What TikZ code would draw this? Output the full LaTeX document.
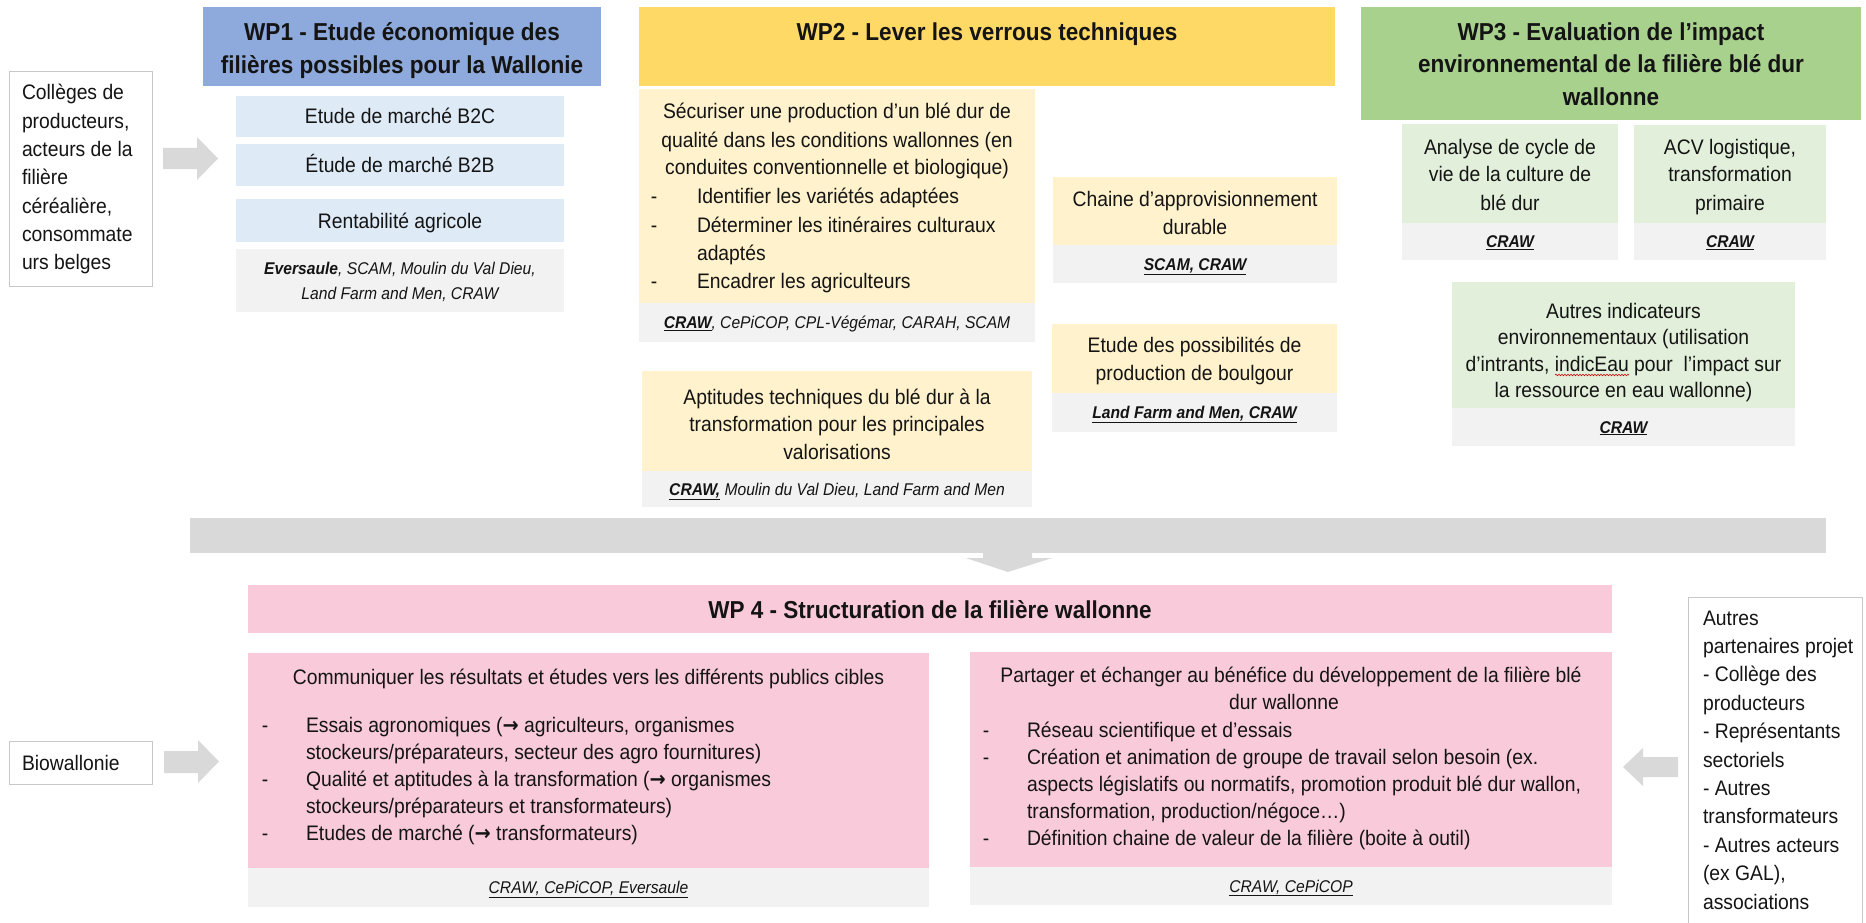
\documentclass[tikz,border=0pt]{standalone}
\usepackage{fontspec}
\setmainfont{Liberation Sans}[FakeStretch=0.92]
\newfontfamily\arrowfont{DejaVu Sans}[FakeStretch=0.92]
\usetikzlibrary{decorations.pathmorphing}
\definecolor{wpblue}{HTML}{8EA9DB}
\definecolor{lblue}{HTML}{DEEBF7}
\definecolor{wpyel}{HTML}{FFD966}
\definecolor{lyel}{HTML}{FFF2CC}
\definecolor{wpgreen}{HTML}{A9D18E}
\definecolor{lgreen}{HTML}{E2EFDA}
\definecolor{wppink}{HTML}{F9CADA}
\definecolor{pgray}{HTML}{F2F2F2}
\definecolor{agray}{HTML}{D9D9D9}
\definecolor{bgray}{HTML}{C8C8C8}
\definecolor{txtcol}{HTML}{141414}
\newcommand\wpbody{\fontsize{21}{28}\selectfont}
\newcommand\wphead{\fontsize{24.5}{33}\selectfont\bfseries}
\newcommand\wppart{\fontsize{17}{25}\selectfont\itshape}
\newcommand\rarr{{\arrowfont\bfseries →}}
% box: name, style, x1, y1, x2, y2
\newcommand\bx[6]{\node[#2, inner sep=0, outer sep=0, minimum width={(#5)-(#3)}, minimum height={(#6)-(#4)}, anchor=north west] (#1) at (#3,#4) {};}
% lines: name, anchor, x, first baseline, step, list
\newcommand\mlines[6]{\foreach \lintext [count=\i] in {#6} {\node[txt, anchor=#2] (#1-\i) at (#3,{#4+(\i-1)*#5}) {\lintext};}}
\tikzset{txt/.style={inner sep=0, outer sep=0, text=txtcol}}
\begin{document}
\begin{tikzpicture}[x=1pt,y=-1pt]
\useasboundingbox (0,0) rectangle (1866,923);
\fill[white] (0,0) rectangle (1866,923);
% ---------- boxes ----------
\bx{colleges}{draw=bgray, fill=white, line width=1pt}{9}{72}{152}{286}
\bx{bio}{draw=bgray, fill=white, line width=1pt}{9}{741}{152}{784}
\bx{autres}{draw=bgray, fill=white, line width=1pt}{1688}{597}{1862}{940}
\bx{wp1h}{fill=wpblue}{203}{7}{601}{86}
\bx{b2c}{fill=lblue}{236}{96}{564}{137}
\bx{b2b}{fill=lblue}{236}{144}{564}{186}
\bx{rent}{fill=lblue}{236}{199}{564}{242}
\bx{p1}{fill=pgray}{236}{249}{564}{312}
\bx{wp2h}{fill=wpyel}{639}{7}{1335}{86}
\bx{w2a}{fill=lyel}{639}{89}{1035}{303}
\bx{p2a}{fill=pgray}{639}{303}{1035}{342}
\bx{w2b}{fill=lyel}{642}{371}{1032}{471}
\bx{p2b}{fill=pgray}{642}{471}{1032}{507}
\bx{w2c}{fill=lyel}{1053}{177}{1337}{245}
\bx{p2c}{fill=pgray}{1053}{245}{1337}{283}
\bx{w2d}{fill=lyel}{1052}{324}{1337}{393}
\bx{p2d}{fill=pgray}{1052}{393}{1337}{432}
\bx{wp3h}{fill=wpgreen}{1361}{7}{1861}{120}
\bx{w3a}{fill=lgreen}{1402}{124}{1618}{223}
\bx{p3a}{fill=pgray}{1402}{223}{1618}{260}
\bx{w3b}{fill=lgreen}{1634}{125}{1826}{223}
\bx{p3b}{fill=pgray}{1634}{223}{1826}{260}
\bx{w3c}{fill=lgreen}{1452}{282}{1795}{408}
\bx{p3c}{fill=pgray}{1452}{408}{1795}{446}
\bx{band}{fill=agray}{190}{518}{1826}{553}
\bx{wp4h}{fill=wppink}{248}{585}{1612}{633}
\bx{w4a}{fill=wppink}{248}{653}{929}{868}
\bx{p4a}{fill=pgray}{248}{868}{929}{907}
\bx{w4b}{fill=wppink}{970}{652}{1612}{867}
\bx{p4b}{fill=pgray}{970}{867}{1612}{905}
% ---------- block arrows ----------
\fill[agray] (163,148) -- (197,148) -- (197,137) -- (218,158.5) -- (197,180) -- (197,169) -- (163,169) -- cycle;
\fill[agray] (164,751) -- (198,751) -- (198,740) -- (219,761.5) -- (198,783) -- (198,773) -- (164,773) -- cycle;
\fill[agray] (1678,757) -- (1643,757) -- (1643,748) -- (1623,767) -- (1643,786) -- (1643,777) -- (1678,777) -- cycle;
\fill[agray] (983,550) -- (1032,550) -- (1032,558) -- (1052,558) -- (1008,572) -- (966,558) -- (983,558) -- cycle;
% ---------- headers ----------
\begin{scope}[font=\wphead]
\mlines{th1}{base}{402}{40.5}{33}{WP1 - Etude économique des, filières possibles pour la Wallonie}
\node[txt, anchor=base] (th2) at (987,40.5) {WP2 - Lever les verrous techniques};
\mlines{th3}{base}{1611}{40.5}{32.5}{WP3 - Evaluation de l’impact, environnemental de la filière blé dur, wallonne}
\node[txt, anchor=base] (th4) at (930,618) {WP 4 - Structuration de la filière wallonne};
\end{scope}
% ---------- body text ----------
\begin{scope}[font=\wpbody]
\mlines{tcol}{base west}{22}{100}{28.3}{Collèges de,{producteurs,},acteurs de la,filière,{céréalière,},consommate,urs belges}
\node[txt, anchor=base west] (tbio) at (22,770) {Biowallonie};
\node[txt, anchor=base] (tb2c) at (400,124) {Etude de marché B2C};
\node[txt, anchor=base] (tb2b) at (400,172) {Étude de marché B2B};
\node[txt, anchor=base] (trent) at (400,228) {Rentabilité agricole};
\mlines{t2a}{base}{837}{119}{28}{Sécuriser une production d’un blé dur de, qualité dans les conditions wallonnes (en, conduites conventionnelle et biologique)}
\mlines{t2ab}{base west}{697}{204}{28.3}{Identifier les variétés adaptées, Déterminer les itinéraires culturaux, adaptés, Encadrer les agriculteurs}
\node[txt, anchor=base] (d2a1) at (654,204) {-};
\node[txt, anchor=base] (d2a2) at (654,232.3) {-};
\node[txt, anchor=base] (d2a3) at (654,288.9) {-};
\mlines{t2b}{base}{837}{404}{27.5}{Aptitudes techniques du blé dur à la, transformation pour les principales, valorisations}
\mlines{t2c}{base}{1195}{206}{28.5}{Chaine d’approvisionnement, durable}
\mlines{t2d}{base}{1194.5}{352}{28.5}{Etude des possibilités de, production de boulgour}
\mlines{t3a}{base}{1510}{154}{28}{Analyse de cycle de, vie de la culture de, blé dur}
\mlines{t3b}{base}{1730}{154}{28}{{ACV logistique,}, transformation, primaire}
\mlines{t3c}{base}{1623.5}{318}{26.5}{Autres indicateurs, environnementaux (utilisation, {d’intrants, indicEau pour\ \ l’impact sur}, la ressource en eau wallonne)}
\node[txt, anchor=base] (t4a0) at (588.5,684) {Communiquer les résultats et études vers les différents publics cibles};
\mlines{t4a}{base west}{306}{732}{27}{{Essais agronomiques (\rarr\ agriculteurs, organismes}, {stockeurs/préparateurs, secteur des agro fournitures)}, {Qualité et aptitudes à la transformation (\rarr\ organismes}, {stockeurs/préparateurs et transformateurs)}, {Etudes de marché (\rarr\ transformateurs)}}
\node[txt, anchor=base] (d4a1) at (265,732) {-};
\node[txt, anchor=base] (d4a2) at (265,786) {-};
\node[txt, anchor=base] (d4a3) at (265,840) {-};
\node[txt, anchor=base] (t4b0) at (1291,682) {Partager et échanger au bénéfice du développement de la filière blé};
\node[txt, anchor=base] (t4b00) at (1284,709) {dur wallonne};
\mlines{t4b}{base west}{1027}{737}{27}{{Réseau scientifique et d’essais}, {Création et animation de groupe de travail selon besoin (ex.}, {aspects législatifs ou normatifs, promotion produit blé dur wallon,}, {transformation, production/négoce…)}, {Définition chaine de valeur de la filière (boite à outil)}}
\node[txt, anchor=base] (d4b1) at (986,737) {-};
\node[txt, anchor=base] (d4b2) at (986,764) {-};
\node[txt, anchor=base] (d4b3) at (986,845) {-};
\mlines{taut}{base west}{1703}{625}{28.4}{Autres, partenaires projet, - Collège des, producteurs, - Représentants, sectoriels, - Autres, transformateurs, - Autres acteurs, {(ex GAL),}, associations}
\end{scope}
% ---------- partners ----------
\begin{scope}[font=\wppart]
\mlines{tp1}{base}{400}{274}{25}{{\textbf{Eversaule}, SCAM, Moulin du Val Dieu,}, {Land Farm and Men, CRAW}}
\node[txt, anchor=base] (tp2a) at (837,328.5) {\underline{\textbf{CRAW}}, CePiCOP, CPL-Végémar, CARAH, SCAM};
\node[txt, anchor=base] (tp2b) at (837,495) {\underline{\textbf{CRAW,}} Moulin du Val Dieu, Land Farm and Men};
\node[txt, anchor=base] (tp2c) at (1195,270) {\underline{\textbf{SCAM, CRAW}}};
\node[txt, anchor=base] (tp2d) at (1194.5,418.5) {\underline{\textbf{Land Farm and Men, CRAW}}};
\node[txt, anchor=base] (tp3a) at (1510,247.5) {\underline{\textbf{CRAW}}};
\node[txt, anchor=base] (tp3b) at (1730,247.5) {\underline{\textbf{CRAW}}};
\node[txt, anchor=base] (tp3c) at (1623.5,433) {\underline{\textbf{CRAW}}};
\node[txt, anchor=base] (tp4a) at (588.5,893.5) {\underline{CRAW, CePiCOP, Eversaule}};
\node[txt, anchor=base] (tp4b) at (1291,892) {\underline{CRAW, CePiCOP}};
\end{scope}
% spell-check squiggle under indicEau
\draw[red!80!black, line width=0.6pt, decorate, decoration={snake, amplitude=0.8pt, segment length=3pt}] (1555,375) -- (1629,375);
\end{tikzpicture}
\end{document}
